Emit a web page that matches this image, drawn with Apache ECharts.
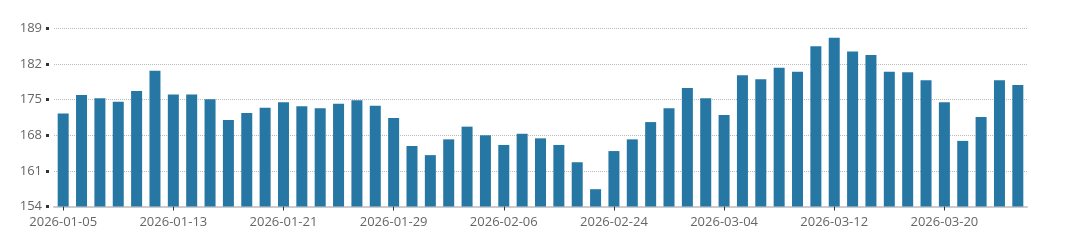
<!DOCTYPE html>
<html>
<head>
<meta charset="utf-8">
<script src="https://cdn.jsdelivr.net/npm/echarts@6/dist/echarts.min.js"></script>
<style>html,body{margin:0;padding:0;background:#fff}#c{width:1080px;height:245px}</style>
</head>
<body>
<div id="c"></div>
<script>
const categories = [
 '2026-01-05','2026-01-06','2026-01-07','2026-01-08','2026-01-09',
 '2026-01-12','2026-01-13','2026-01-14','2026-01-15','2026-01-16',
 '2026-01-19','2026-01-20','2026-01-21','2026-01-22','2026-01-23',
 '2026-01-26','2026-01-27','2026-01-28','2026-01-29','2026-01-30',
 '2026-02-02','2026-02-03','2026-02-04','2026-02-05','2026-02-06',
 '2026-02-09','2026-02-10','2026-02-11','2026-02-12','2026-02-13',
 '2026-02-24','2026-02-25','2026-02-26','2026-02-27',
 '2026-03-02','2026-03-03','2026-03-04','2026-03-05','2026-03-06',
 '2026-03-09','2026-03-10','2026-03-11','2026-03-12','2026-03-13',
 '2026-03-16','2026-03-17','2026-03-18','2026-03-19','2026-03-20',
 '2026-03-23','2026-03-24','2026-03-25','2026-03-26'
];
const values = [
 172.3,175.9,175.3,174.6,176.7,
 180.7,176.0,176.0,175.1,171.0,
 172.4,173.4,174.5,173.7,173.3,
 174.2,174.9,173.8,171.4,165.9,
 164.1,167.2,169.7,168.0,166.1,
 168.3,167.4,166.1,162.7,157.4,
 164.9,167.2,170.6,173.3,
 177.3,175.3,172.0,179.8,179.0,
 181.3,180.5,185.5,187.2,184.5,
 183.8,180.5,180.4,178.8,174.5,
 166.9,171.6,178.8,177.9
];
const yTicks = [154, 161, 168, 175, 182, 189];

const chart = echarts.init(document.getElementById('c'), null, {renderer: 'canvas'});
chart.setOption({
  animation: false,
  grid: {left: 54, right: 53, top: 28.5, bottom: 38.5, containLabel: false},
  xAxis: {
    type: 'category',
    data: categories,
    boundaryGap: true,
    axisLine: {show: true, lineStyle: {color: '#cccccc', width: 2}},
    axisTick: {show: true, alignWithLabel: true, interval: 5, length: 4, lineStyle: {color: '#333', width: 1}},
    axisLabel: {interval: 5, color: '#666', fontSize: 13, fontFamily: 'Open Sans', margin: 9}
  },
  yAxis: {
    type: 'value',
    min: yTicks[0],
    max: yTicks[yTicks.length - 1],
    interval: 7,
    offset: 5,
    axisLine: {show: false},
    axisTick: {show: true, length: 3, lineStyle: {color: '#333', width: 3}},
    axisLabel: {color: '#666', fontSize: 13, fontFamily: 'Open Sans', margin: 7},
    splitLine: {show: true, lineStyle: {color: '#bbbbbb', type: 'dotted', width: 1}}
  },
  series: [{
    type: 'bar',
    data: values,
    barWidth: 11,
    itemStyle: {color: '#2677a4'}
  }]
});
</script>
</body>
</html>
